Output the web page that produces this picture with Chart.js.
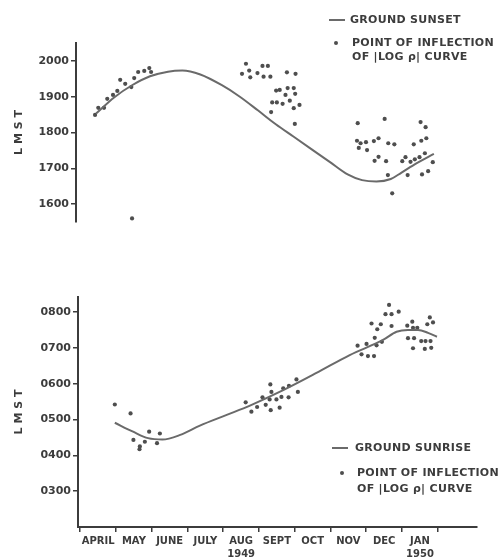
<!DOCTYPE html>
<html>
<head>
<meta charset="utf-8">
<script src="https://cdn.jsdelivr.net/npm/chart.js@4"></script>
<style>
  html, body { margin: 0; padding: 0; background: #fff; }
  #wrap { position: relative; width: 499px; height: 558px; overflow: hidden; }
  #top { position: absolute; left: 0; top: 0; }
  #bottom { position: absolute; left: 0; top: 250px; }
</style>
</head>
<body>
<div id="wrap">
  <canvas id="top" width="499" height="250"></canvas>
  <canvas id="bottom" width="499" height="308"></canvas>
</div>
<script>
// x = months after April 1, 1949 (0 = April 1, 1 = May 1, ...)
var monthLabels = ['APRIL', 'MAY', 'JUNE', 'JULY', ['AUG', '1949'], 'SEPT', 'OCT', 'NOV', 'DEC', ['JAN', '1950'], ''];
var monthTicks = [0, 1, 2, 3, 4, 5, 6, 7, 8, 9, 10];

var sunsetTicks = [1600, 1700, 1800, 1900, 2000];
var sunriseTicks = [300, 400, 500, 600, 700, 800];

// ground sunset curve
var sunsetX = [0.5, 1.0, 1.5, 2.0, 2.5, 2.9, 3.4, 4.0, 4.5, 5.0, 5.5, 6.0, 6.5, 7.0, 7.5, 7.9, 8.3, 8.7, 9.0, 9.4, 9.9];
var sunsetY = [1853, 1898, 1932, 1957, 1970, 1973, 1962, 1932, 1900, 1862, 1823, 1788, 1753, 1718, 1683, 1667, 1663, 1670, 1688, 1713, 1740];

// points of inflection (evening)
var eveX = [0.47, 0.56, 0.72, 0.81, 0.97, 1.09, 1.17, 1.31, 1.48, 1.56, 1.67, 1.84, 1.98, 2.03, 1.5,
  4.67, 5.13, 5.28, 4.76, 4.56, 4.99, 4.79, 5.16, 5.35, 5.81, 6.05, 5.51, 5.61, 5.83, 6.0, 5.77, 6.04, 5.40, 5.53, 5.69, 5.89, 6.0, 6.16, 5.37, 6.03,
  7.78, 8.53, 9.53, 9.67, 7.76, 7.86, 7.81, 8.01, 8.23, 8.36, 8.63, 8.80, 8.04, 9.34, 9.55, 9.69, 8.36, 8.25, 8.57, 9.02, 9.11, 9.25, 9.37, 9.50, 9.65, 9.87, 8.62, 9.17, 9.57, 9.74, 8.74];
var eveY = [1849, 1869, 1869, 1894, 1905, 1916, 1947, 1936, 1927, 1952, 1969, 1972, 1980, 1969, 1560,
  1992, 1986, 1986, 1973, 1964, 1966, 1954, 1956, 1956, 1968, 1964, 1917, 1919, 1924, 1924, 1905, 1908, 1884, 1884, 1880, 1889, 1868, 1877, 1857, 1824,
  1826, 1838, 1829, 1815, 1777, 1770, 1757, 1773, 1776, 1784, 1770, 1767, 1751, 1767, 1777, 1784, 1732, 1721, 1720, 1720, 1731, 1718, 1725, 1731, 1742, 1717, 1681, 1681, 1683, 1692, 1630];

// ground sunrise curve
var sunriseX = [0.97, 1.48, 1.9, 2.3, 2.8, 3.35, 4.1, 4.75, 5.68, 6.61, 7.54, 8.47, 8.85, 9.17, 9.45, 9.73, 9.98];
var sunriseY = [491, 466, 448, 444, 457, 483, 513, 539, 582, 630, 680, 722, 745, 750, 750, 742, 731];

// points of inflection (morning)
var mornX = [0.97, 1.41, 1.49, 1.67, 1.66, 1.81, 1.93, 2.15, 2.23,
  4.63, 4.79, 4.95, 5.10, 5.19, 5.32, 5.35, 5.30, 5.33, 5.49, 5.58, 5.63, 5.68, 5.83, 5.84, 6.05, 6.09,
  8.64, 8.54, 8.71, 8.91, 8.15, 8.41, 8.31, 8.71, 9.15, 9.29, 9.31, 9.43, 9.71, 9.78, 9.87, 9.17, 9.34, 9.54, 9.66, 9.80, 9.31, 9.64, 9.82, 8.24, 8.44, 8.01, 7.76, 7.87, 8.05, 8.22, 8.29];
var mornY = [542, 517, 443, 425, 417, 438, 466, 434, 461,
  548, 522, 535, 562, 541, 598, 577, 556, 526, 556, 533, 563, 587, 562, 594, 612, 577,
  820, 794, 794, 801, 768, 766, 752, 761, 762, 773, 756, 756, 766, 785, 771, 727, 727, 719, 719, 719, 699, 697, 700, 728, 717, 711, 706, 682, 677, 677, 707];

var inkColor = '#3c3c3c';
var curveColor = '#6a6a6a';
var dotColor = '#4e4e4e';
var tickFont = { family: '"DejaVu Sans"', size: 11, weight: 'bold' };

function toPoints(xs, ys) {
  return xs.map(function (x, i) { return { x: x, y: ys[i] }; });
}

function pad4(v) {
  return String(v).padStart(4, '0');
}

// legend drawn beside the curves, like the hand-lettered original
function sideLegend(spec) {
  return {
    id: 'sideLegend',
    afterDraw: function (chart) {
      var ctx = chart.ctx;
      ctx.save();
      ctx.font = 'bold 11px "DejaVu Sans"';
      if ('letterSpacing' in ctx) ctx.letterSpacing = '0.3px';
      ctx.fillStyle = inkColor;
      ctx.textBaseline = 'middle';
      ctx.textAlign = 'left';
      ctx.strokeStyle = curveColor;
      ctx.lineWidth = 2;
      ctx.beginPath();
      ctx.moveTo(spec.lineX, spec.lineY);
      ctx.lineTo(spec.lineX + 16, spec.lineY);
      ctx.stroke();
      ctx.fillText(chart.data.datasets[0].label, spec.textX1, spec.lineY);
      ctx.fillStyle = dotColor;
      ctx.beginPath();
      ctx.arc(spec.dotX, spec.dotY, 2, 0, Math.PI * 2);
      ctx.fill();
      ctx.fillStyle = inkColor;
      var lines = chart.data.datasets[1].label.split('\n');
      lines.forEach(function (t, i) {
        ctx.fillText(t, spec.textX2, spec.dotY + i * spec.lineGap);
      });
      ctx.restore();
    }
  };
}

function baseScales(yMin, yMax, yTicks, yWidth, showX) {
  return {
    x: {
      type: 'linear',
      min: -0.06,
      max: 11.1,
      display: showX,
      afterBuildTicks: function (scale) {
        scale.ticks = monthTicks.map(function (v) { return { value: v }; });
      },
      afterFit: function (scale) { scale.height = showX ? 31 : 0; },
      border: { display: true, color: inkColor, width: 2 },
      grid: { display: true, drawOnChartArea: false, drawTicks: true, tickLength: 5, color: inkColor, lineWidth: 1.5 },
      ticks: {
        color: inkColor,
        font: { family: '"DejaVu Sans"', size: 10, weight: 'bold', lineHeight: 1.3 },
        autoSkip: false,
        maxRotation: 0,
        labelOffset: 18,
        padding: 3,
        callback: function (value, index) { return monthLabels[index]; }
      }
    },
    y: {
      type: 'linear',
      min: yMin,
      max: yMax,
      afterBuildTicks: function (scale) {
        scale.ticks = yTicks.map(function (v) { return { value: v }; });
      },
      afterFit: function (scale) { scale.width = yWidth; },
      border: { display: true, color: inkColor, width: 2 },
      grid: { display: true, drawOnChartArea: false, drawTicks: true, tickLength: 5, color: inkColor, lineWidth: 1.5 },
      title: { display: true, text: 'L M S T', color: inkColor, font: tickFont, padding: { top: 13, bottom: 0 } },
      ticks: {
        color: inkColor,
        font: tickFont,
        padding: 2,
        callback: function (value) { return pad4(value); }
      }
    }
  };
}

function makeChart(id, curveLabel, curve, dots, scales, padding, legendSpec) {
  return new Chart(document.getElementById(id).getContext('2d'), {
    type: 'scatter',
    data: {
      datasets: [{
        type: 'line',
        label: curveLabel,
        data: curve,
        showLine: true,
        borderColor: curveColor,
        borderWidth: 2,
        pointRadius: 0,
        cubicInterpolationMode: 'monotone',
        fill: false
      }, {
        label: 'POINT OF INFLECTION\nOF |LOG \u03C1| CURVE',
        data: dots,
        backgroundColor: dotColor,
        borderWidth: 0,
        pointRadius: 2.1
      }]
    },
    options: {
      responsive: false,
      animation: false,
      devicePixelRatio: 1,
      layout: { padding: padding },
      plugins: { legend: { display: false }, tooltip: { enabled: false } },
      scales: scales
    },
    plugins: [sideLegend(legendSpec)]
  });
}

makeChart('top', 'GROUND SUNSET', toPoints(sunsetX, sunsetY), toPoints(eveX, eveY),
  baseScales(1550, 2050, sunsetTicks, 76, false),
  { top: 43, bottom: 28, left: 0, right: 22 },
  { lineX: 329, lineY: 20, textX1: 350, dotX: 336, dotY: 43, textX2: 352, lineGap: 14 });

makeChart('bottom', 'GROUND SUNRISE', toPoints(sunriseX, sunriseY), toPoints(mornX, mornY),
  baseScales(200, 842, sunriseTicks, 78, true),
  { top: 47, bottom: 0, left: 0, right: 22 },
  { lineX: 332, lineY: 198, textX1: 355, dotX: 342, dotY: 223, textX2: 357, lineGap: 16 });
</script>
</body>
</html>
